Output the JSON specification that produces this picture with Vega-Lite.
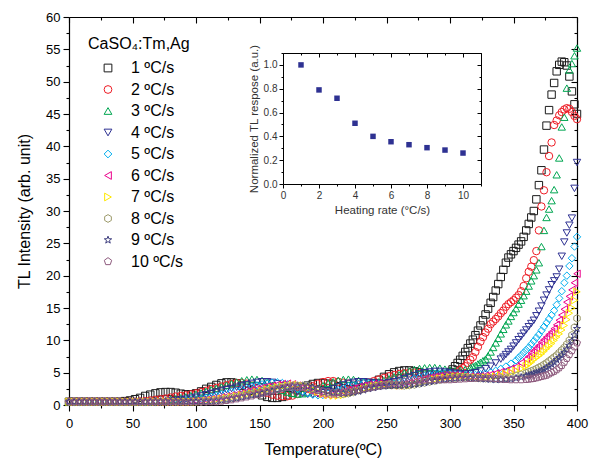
{"$schema":"https://vega.github.io/schema/vega-lite/v6.json","width":508,"height":388,"autosize":{"type":"none"},"padding":{"left":69,"top":17,"right":13,"bottom":55},"background":"white",
"config":{"view":{"stroke":null},"font":"Liberation Sans","axis":{"domainColor":"#000","tickColor":"#000","labelColor":"#000","titleColor":"#000","labelFont":"Liberation Sans","titleFont":"Liberation Sans","titleFontWeight":"normal","grid":false,"labelFlush":false,"labelOverlap":false,"domainWidth":1.2,"tickWidth":1.1}},
"datasets":{"inset":[{"r":1,"n":1.0},{"r":2,"n":0.79},{"r":3,"n":0.72},{"r":4,"n":0.51},{"r":5,"n":0.40},{"r":6,"n":0.355},{"r":7,"n":0.33},{"r":8,"n":0.305},{"r":9,"n":0.285},{"r":10,"n":0.26}],
"tl":[
{"s":1,"t":0,"v":0.5},{"s":1,"t":4,"v":0.5},{"s":1,"t":8,"v":0.5},{"s":1,"t":12,"v":0.5},{"s":1,"t":16,"v":0.5},{"s":1,"t":20,"v":0.5},{"s":1,"t":24,"v":0.5},{"s":1,"t":28,"v":0.5},{"s":1,"t":32,"v":0.5},{"s":1,"t":36,"v":0.5},{"s":1,"t":40,"v":0.5},{"s":1,"t":44,"v":0.6},{"s":1,"t":48,"v":0.7},{"s":1,"t":52,"v":0.9},{"s":1,"t":56,"v":1.1},{"s":1,"t":60,"v":1.4},{"s":1,"t":64,"v":1.6},{"s":1,"t":68,"v":1.8},{"s":1,"t":72,"v":1.95},{"s":1,"t":76,"v":2},{"s":1,"t":80,"v":2},{"s":1,"t":84,"v":1.9},{"s":1,"t":88,"v":1.75},{"s":1,"t":92,"v":1.65},{"s":1,"t":96,"v":1.65},{"s":1,"t":100,"v":1.8},{"s":1,"t":104,"v":2.1},{"s":1,"t":108,"v":2.5},{"s":1,"t":112,"v":2.8},{"s":1,"t":116,"v":3.1},{"s":1,"t":120,"v":3.35},{"s":1,"t":124,"v":3.5},{"s":1,"t":128,"v":3.5},{"s":1,"t":132,"v":3.35},{"s":1,"t":136,"v":3},{"s":1,"t":140,"v":2.6},{"s":1,"t":144,"v":2.2},{"s":1,"t":148,"v":1.8},{"s":1,"t":152,"v":1.5},{"s":1,"t":156,"v":1.25},{"s":1,"t":160,"v":1.1},{"s":1,"t":164,"v":1.1},{"s":1,"t":168,"v":1.25},{"s":1,"t":172,"v":1.5},{"s":1,"t":176,"v":1.9},{"s":1,"t":180,"v":2.3},{"s":1,"t":184,"v":2.7},{"s":1,"t":188,"v":3},{"s":1,"t":192,"v":3.25},{"s":1,"t":196,"v":3.4},{"s":1,"t":200,"v":3.4},{"s":1,"t":204,"v":3.3},{"s":1,"t":208,"v":3.15},{"s":1,"t":212,"v":2.9},{"s":1,"t":216,"v":2.6},{"s":1,"t":220,"v":2.45},{"s":1,"t":224,"v":2.4},{"s":1,"t":228,"v":2.45},{"s":1,"t":232,"v":2.7},{"s":1,"t":236,"v":3},{"s":1,"t":240,"v":3.4},{"s":1,"t":244,"v":3.9},{"s":1,"t":248,"v":4.35},{"s":1,"t":252,"v":4.75},{"s":1,"t":256,"v":5.05},{"s":1,"t":260,"v":5.25},{"s":1,"t":264,"v":5.35},{"s":1,"t":268,"v":5.35},{"s":1,"t":272,"v":5.2},{"s":1,"t":276,"v":5.05},{"s":1,"t":280,"v":4.85},{"s":1,"t":284,"v":4.65},{"s":1,"t":288,"v":4.55},{"s":1,"t":292,"v":4.55},{"s":1,"t":296,"v":4.7},{"s":1,"t":300,"v":5.1},{"s":1,"t":302,"v":5.5},{"s":1,"t":304,"v":6},{"s":1,"t":306,"v":6.5},{"s":1,"t":308,"v":7},{"s":1,"t":310,"v":7.6},{"s":1,"t":312,"v":8.2},{"s":1,"t":314,"v":8.8},{"s":1,"t":316,"v":9.5},{"s":1,"t":318,"v":10.1},{"s":1,"t":320,"v":10.8},{"s":1,"t":322,"v":11.5},{"s":1,"t":324,"v":12.3},{"s":1,"t":326,"v":13.1},{"s":1,"t":328,"v":14},{"s":1,"t":330,"v":14.9},{"s":1,"t":332,"v":15.8},{"s":1,"t":334,"v":16.7},{"s":1,"t":336,"v":17.7},{"s":1,"t":338,"v":18.7},{"s":1,"t":340,"v":19.8},{"s":1,"t":342,"v":20.9},{"s":1,"t":344,"v":22},{"s":1,"t":346,"v":22.8},{"s":1,"t":348,"v":23.3},{"s":1,"t":350,"v":23.8},{"s":1,"t":352,"v":24.3},{"s":1,"t":354,"v":24.8},{"s":1,"t":356,"v":25.3},{"s":1,"t":358,"v":26},{"s":1,"t":360,"v":27},{"s":1,"t":362,"v":28},{"s":1,"t":364,"v":29},{"s":1,"t":366,"v":30},{"s":1,"t":368,"v":31.8},{"s":1,"t":370,"v":34},{"s":1,"t":372,"v":36.3},{"s":1,"t":374,"v":39.5},{"s":1,"t":376,"v":43.2},{"s":1,"t":378,"v":45.6},{"s":1,"t":380,"v":48},{"s":1,"t":382,"v":49.8},{"s":1,"t":384,"v":51.6},{"s":1,"t":386,"v":52.6},{"s":1,"t":388,"v":53.1},{"s":1,"t":390,"v":53},{"s":1,"t":392,"v":52.5},{"s":1,"t":394,"v":50.8},{"s":1,"t":396,"v":48.5},{"s":1,"t":398,"v":46.5},{"s":1,"t":400,"v":45},
{"s":2,"t":0,"v":0.5},{"s":2,"t":4,"v":0.5},{"s":2,"t":8,"v":0.5},{"s":2,"t":12,"v":0.5},{"s":2,"t":16,"v":0.5},{"s":2,"t":20,"v":0.5},{"s":2,"t":24,"v":0.5},{"s":2,"t":28,"v":0.5},{"s":2,"t":32,"v":0.5},{"s":2,"t":36,"v":0.5},{"s":2,"t":40,"v":0.5},{"s":2,"t":44,"v":0.5},{"s":2,"t":48,"v":0.5},{"s":2,"t":52,"v":0.5},{"s":2,"t":56,"v":0.55},{"s":2,"t":60,"v":0.6},{"s":2,"t":64,"v":0.7},{"s":2,"t":68,"v":0.8},{"s":2,"t":72,"v":0.9},{"s":2,"t":76,"v":1},{"s":2,"t":80,"v":1.15},{"s":2,"t":84,"v":1.3},{"s":2,"t":88,"v":1.4},{"s":2,"t":92,"v":1.5},{"s":2,"t":96,"v":1.65},{"s":2,"t":100,"v":1.8},{"s":2,"t":104,"v":2},{"s":2,"t":108,"v":2.2},{"s":2,"t":112,"v":2.45},{"s":2,"t":116,"v":2.65},{"s":2,"t":120,"v":2.85},{"s":2,"t":124,"v":3.05},{"s":2,"t":128,"v":3.25},{"s":2,"t":132,"v":3.4},{"s":2,"t":136,"v":3.4},{"s":2,"t":140,"v":3.3},{"s":2,"t":144,"v":3},{"s":2,"t":148,"v":2.6},{"s":2,"t":152,"v":2.2},{"s":2,"t":156,"v":1.9},{"s":2,"t":160,"v":1.6},{"s":2,"t":164,"v":1.45},{"s":2,"t":168,"v":1.35},{"s":2,"t":172,"v":1.35},{"s":2,"t":176,"v":1.45},{"s":2,"t":180,"v":1.7},{"s":2,"t":184,"v":2.1},{"s":2,"t":188,"v":2.5},{"s":2,"t":192,"v":2.9},{"s":2,"t":196,"v":3.3},{"s":2,"t":200,"v":3.55},{"s":2,"t":204,"v":3.7},{"s":2,"t":208,"v":3.7},{"s":2,"t":212,"v":3.6},{"s":2,"t":216,"v":3.45},{"s":2,"t":220,"v":3.3},{"s":2,"t":224,"v":3.15},{"s":2,"t":228,"v":3.15},{"s":2,"t":232,"v":3.3},{"s":2,"t":236,"v":3.5},{"s":2,"t":240,"v":3.7},{"s":2,"t":244,"v":3.95},{"s":2,"t":248,"v":4.2},{"s":2,"t":252,"v":4.45},{"s":2,"t":256,"v":4.65},{"s":2,"t":260,"v":4.8},{"s":2,"t":264,"v":4.9},{"s":2,"t":268,"v":5},{"s":2,"t":272,"v":5},{"s":2,"t":276,"v":4.95},{"s":2,"t":280,"v":4.85},{"s":2,"t":284,"v":4.75},{"s":2,"t":288,"v":4.65},{"s":2,"t":292,"v":4.6},{"s":2,"t":296,"v":4.6},{"s":2,"t":300,"v":4.7},{"s":2,"t":304,"v":4.95},{"s":2,"t":306,"v":5.15},{"s":2,"t":308,"v":5.4},{"s":2,"t":310,"v":5.7},{"s":2,"t":312,"v":6},{"s":2,"t":314,"v":6.5},{"s":2,"t":316,"v":7},{"s":2,"t":318,"v":7.4},{"s":2,"t":320,"v":8.2},{"s":2,"t":322,"v":9},{"s":2,"t":324,"v":9.8},{"s":2,"t":326,"v":10.5},{"s":2,"t":328,"v":11.2},{"s":2,"t":330,"v":11.8},{"s":2,"t":332,"v":12.5},{"s":2,"t":334,"v":12.9},{"s":2,"t":336,"v":13.3},{"s":2,"t":338,"v":13.7},{"s":2,"t":340,"v":14.2},{"s":2,"t":342,"v":14.6},{"s":2,"t":344,"v":15.2},{"s":2,"t":346,"v":15.6},{"s":2,"t":348,"v":15.9},{"s":2,"t":350,"v":16.2},{"s":2,"t":352,"v":16.6},{"s":2,"t":354,"v":17},{"s":2,"t":356,"v":17.6},{"s":2,"t":358,"v":18.4},{"s":2,"t":360,"v":19.6},{"s":2,"t":362,"v":20.6},{"s":2,"t":364,"v":21.4},{"s":2,"t":366,"v":22.4},{"s":2,"t":368,"v":23.8},{"s":2,"t":370,"v":27},{"s":2,"t":372,"v":30.7},{"s":2,"t":374,"v":33.2},{"s":2,"t":376,"v":36},{"s":2,"t":378,"v":38.5},{"s":2,"t":380,"v":40.6},{"s":2,"t":382,"v":43.3},{"s":2,"t":384,"v":44},{"s":2,"t":386,"v":44.8},{"s":2,"t":388,"v":45.3},{"s":2,"t":390,"v":45.7},{"s":2,"t":392,"v":45.9},{"s":2,"t":394,"v":45.8},{"s":2,"t":396,"v":45.3},{"s":2,"t":398,"v":44.7},{"s":2,"t":400,"v":44.2},
{"s":3,"t":0,"v":0.5},{"s":3,"t":4,"v":0.5},{"s":3,"t":8,"v":0.5},{"s":3,"t":12,"v":0.5},{"s":3,"t":16,"v":0.5},{"s":3,"t":20,"v":0.5},{"s":3,"t":24,"v":0.5},{"s":3,"t":28,"v":0.5},{"s":3,"t":32,"v":0.5},{"s":3,"t":36,"v":0.5},{"s":3,"t":40,"v":0.5},{"s":3,"t":44,"v":0.5},{"s":3,"t":48,"v":0.5},{"s":3,"t":52,"v":0.5},{"s":3,"t":56,"v":0.5},{"s":3,"t":60,"v":0.5},{"s":3,"t":64,"v":0.5},{"s":3,"t":68,"v":0.55},{"s":3,"t":72,"v":0.62},{"s":3,"t":76,"v":0.7},{"s":3,"t":80,"v":0.85},{"s":3,"t":84,"v":0.95},{"s":3,"t":88,"v":1.1},{"s":3,"t":92,"v":1.25},{"s":3,"t":96,"v":1.45},{"s":3,"t":100,"v":1.65},{"s":3,"t":104,"v":1.85},{"s":3,"t":108,"v":2.1},{"s":3,"t":112,"v":2.35},{"s":3,"t":116,"v":2.55},{"s":3,"t":120,"v":2.8},{"s":3,"t":124,"v":3.05},{"s":3,"t":128,"v":3.3},{"s":3,"t":132,"v":3.55},{"s":3,"t":136,"v":3.75},{"s":3,"t":140,"v":3.9},{"s":3,"t":144,"v":4},{"s":3,"t":148,"v":3.95},{"s":3,"t":152,"v":3.8},{"s":3,"t":156,"v":3.5},{"s":3,"t":160,"v":3.05},{"s":3,"t":164,"v":2.6},{"s":3,"t":168,"v":2.25},{"s":3,"t":172,"v":2},{"s":3,"t":176,"v":1.8},{"s":3,"t":180,"v":1.7},{"s":3,"t":184,"v":1.75},{"s":3,"t":188,"v":1.9},{"s":3,"t":192,"v":2.2},{"s":3,"t":196,"v":2.6},{"s":3,"t":200,"v":3},{"s":3,"t":204,"v":3.35},{"s":3,"t":208,"v":3.6},{"s":3,"t":212,"v":3.8},{"s":3,"t":216,"v":3.95},{"s":3,"t":220,"v":4},{"s":3,"t":224,"v":3.95},{"s":3,"t":228,"v":3.8},{"s":3,"t":232,"v":3.65},{"s":3,"t":236,"v":3.55},{"s":3,"t":240,"v":3.5},{"s":3,"t":244,"v":3.6},{"s":3,"t":248,"v":3.8},{"s":3,"t":252,"v":4.05},{"s":3,"t":256,"v":4.35},{"s":3,"t":260,"v":4.65},{"s":3,"t":264,"v":4.95},{"s":3,"t":268,"v":5.25},{"s":3,"t":272,"v":5.5},{"s":3,"t":276,"v":5.65},{"s":3,"t":280,"v":5.75},{"s":3,"t":284,"v":5.8},{"s":3,"t":288,"v":5.8},{"s":3,"t":292,"v":5.7},{"s":3,"t":296,"v":5.55},{"s":3,"t":300,"v":5.4},{"s":3,"t":304,"v":5.3},{"s":3,"t":308,"v":5.35},{"s":3,"t":312,"v":5.5},{"s":3,"t":316,"v":5.8},{"s":3,"t":318,"v":5.95},{"s":3,"t":320,"v":6.1},{"s":3,"t":322,"v":6.35},{"s":3,"t":324,"v":6.6},{"s":3,"t":326,"v":6.85},{"s":3,"t":328,"v":7.1},{"s":3,"t":330,"v":7.6},{"s":3,"t":332,"v":8.2},{"s":3,"t":334,"v":8.9},{"s":3,"t":336,"v":9.6},{"s":3,"t":338,"v":10.3},{"s":3,"t":340,"v":11},{"s":3,"t":342,"v":11.7},{"s":3,"t":344,"v":12.4},{"s":3,"t":346,"v":13},{"s":3,"t":348,"v":13.7},{"s":3,"t":350,"v":14.3},{"s":3,"t":352,"v":14.9},{"s":3,"t":354,"v":15.6},{"s":3,"t":356,"v":16.2},{"s":3,"t":358,"v":16.9},{"s":3,"t":360,"v":17.6},{"s":3,"t":362,"v":18.4},{"s":3,"t":364,"v":19.2},{"s":3,"t":366,"v":20},{"s":3,"t":368,"v":20.9},{"s":3,"t":370,"v":22},{"s":3,"t":372,"v":24.5},{"s":3,"t":374,"v":27},{"s":3,"t":376,"v":29},{"s":3,"t":378,"v":30.3},{"s":3,"t":380,"v":31.6},{"s":3,"t":382,"v":33.3},{"s":3,"t":384,"v":35.6},{"s":3,"t":386,"v":38.2},{"s":3,"t":388,"v":43},{"s":3,"t":390,"v":44.5},{"s":3,"t":392,"v":49},{"s":3,"t":394,"v":51.8},{"s":3,"t":396,"v":52.8},{"s":3,"t":398,"v":54},{"s":3,"t":400,"v":55.2},
{"s":4,"t":0,"v":0.5},{"s":4,"t":4,"v":0.5},{"s":4,"t":8,"v":0.5},{"s":4,"t":12,"v":0.5},{"s":4,"t":16,"v":0.5},{"s":4,"t":20,"v":0.5},{"s":4,"t":24,"v":0.5},{"s":4,"t":28,"v":0.5},{"s":4,"t":32,"v":0.5},{"s":4,"t":36,"v":0.5},{"s":4,"t":40,"v":0.5},{"s":4,"t":44,"v":0.5},{"s":4,"t":48,"v":0.5},{"s":4,"t":52,"v":0.5},{"s":4,"t":56,"v":0.5},{"s":4,"t":60,"v":0.5},{"s":4,"t":64,"v":0.5},{"s":4,"t":68,"v":0.5},{"s":4,"t":72,"v":0.5},{"s":4,"t":76,"v":0.5},{"s":4,"t":80,"v":0.6},{"s":4,"t":84,"v":0.68},{"s":4,"t":88,"v":0.78},{"s":4,"t":92,"v":0.9},{"s":4,"t":96,"v":1.05},{"s":4,"t":100,"v":1.2},{"s":4,"t":104,"v":1.4},{"s":4,"t":108,"v":1.6},{"s":4,"t":112,"v":1.8},{"s":4,"t":116,"v":1.95},{"s":4,"t":120,"v":2.15},{"s":4,"t":124,"v":2.35},{"s":4,"t":128,"v":2.55},{"s":4,"t":132,"v":2.75},{"s":4,"t":136,"v":2.95},{"s":4,"t":140,"v":3.15},{"s":4,"t":144,"v":3.35},{"s":4,"t":148,"v":3.5},{"s":4,"t":152,"v":3.6},{"s":4,"t":156,"v":3.6},{"s":4,"t":160,"v":3.5},{"s":4,"t":164,"v":3.3},{"s":4,"t":168,"v":3},{"s":4,"t":172,"v":2.65},{"s":4,"t":176,"v":2.3},{"s":4,"t":180,"v":2},{"s":4,"t":184,"v":1.8},{"s":4,"t":188,"v":1.65},{"s":4,"t":192,"v":1.6},{"s":4,"t":196,"v":1.7},{"s":4,"t":200,"v":1.9},{"s":4,"t":204,"v":2.2},{"s":4,"t":208,"v":2.5},{"s":4,"t":212,"v":2.8},{"s":4,"t":216,"v":3.1},{"s":4,"t":220,"v":3.35},{"s":4,"t":224,"v":3.5},{"s":4,"t":228,"v":3.6},{"s":4,"t":232,"v":3.6},{"s":4,"t":236,"v":3.5},{"s":4,"t":240,"v":3.4},{"s":4,"t":244,"v":3.35},{"s":4,"t":248,"v":3.35},{"s":4,"t":252,"v":3.45},{"s":4,"t":256,"v":3.6},{"s":4,"t":260,"v":3.8},{"s":4,"t":264,"v":4.05},{"s":4,"t":268,"v":4.3},{"s":4,"t":272,"v":4.55},{"s":4,"t":276,"v":4.8},{"s":4,"t":280,"v":5},{"s":4,"t":284,"v":5.1},{"s":4,"t":288,"v":5.2},{"s":4,"t":292,"v":5.2},{"s":4,"t":296,"v":5.1},{"s":4,"t":300,"v":5},{"s":4,"t":304,"v":4.9},{"s":4,"t":308,"v":4.85},{"s":4,"t":312,"v":4.8},{"s":4,"t":316,"v":4.85},{"s":4,"t":320,"v":5},{"s":4,"t":324,"v":5.25},{"s":4,"t":328,"v":5.6},{"s":4,"t":332,"v":6},{"s":4,"t":336,"v":6.5},{"s":4,"t":340,"v":7.1},{"s":4,"t":342,"v":7.4},{"s":4,"t":344,"v":7.8},{"s":4,"t":346,"v":8.2},{"s":4,"t":348,"v":8.6},{"s":4,"t":350,"v":9.1},{"s":4,"t":352,"v":9.6},{"s":4,"t":354,"v":10.1},{"s":4,"t":356,"v":10.6},{"s":4,"t":358,"v":11.1},{"s":4,"t":360,"v":11.6},{"s":4,"t":362,"v":12.1},{"s":4,"t":364,"v":12.6},{"s":4,"t":366,"v":13.1},{"s":4,"t":368,"v":13.8},{"s":4,"t":370,"v":14.5},{"s":4,"t":372,"v":15.3},{"s":4,"t":374,"v":16.2},{"s":4,"t":376,"v":17},{"s":4,"t":378,"v":17.8},{"s":4,"t":380,"v":18.6},{"s":4,"t":382,"v":19.2},{"s":4,"t":384,"v":19.8},{"s":4,"t":386,"v":21},{"s":4,"t":388,"v":23},{"s":4,"t":390,"v":25.2},{"s":4,"t":392,"v":26.6},{"s":4,"t":394,"v":27.8},{"s":4,"t":396,"v":28.9},{"s":4,"t":398,"v":33.5},{"s":4,"t":400,"v":37.5},
{"s":5,"t":0,"v":0.5},{"s":5,"t":4,"v":0.5},{"s":5,"t":8,"v":0.5},{"s":5,"t":12,"v":0.5},{"s":5,"t":16,"v":0.5},{"s":5,"t":20,"v":0.5},{"s":5,"t":24,"v":0.5},{"s":5,"t":28,"v":0.5},{"s":5,"t":32,"v":0.5},{"s":5,"t":36,"v":0.5},{"s":5,"t":40,"v":0.5},{"s":5,"t":44,"v":0.5},{"s":5,"t":48,"v":0.5},{"s":5,"t":52,"v":0.5},{"s":5,"t":56,"v":0.5},{"s":5,"t":60,"v":0.5},{"s":5,"t":64,"v":0.5},{"s":5,"t":68,"v":0.5},{"s":5,"t":72,"v":0.5},{"s":5,"t":76,"v":0.5},{"s":5,"t":80,"v":0.5},{"s":5,"t":84,"v":0.5},{"s":5,"t":88,"v":0.6},{"s":5,"t":92,"v":0.68},{"s":5,"t":96,"v":0.78},{"s":5,"t":100,"v":0.9},{"s":5,"t":104,"v":1},{"s":5,"t":108,"v":1.15},{"s":5,"t":112,"v":1.3},{"s":5,"t":116,"v":1.45},{"s":5,"t":120,"v":1.65},{"s":5,"t":124,"v":1.85},{"s":5,"t":128,"v":2.05},{"s":5,"t":132,"v":2.25},{"s":5,"t":136,"v":2.45},{"s":5,"t":140,"v":2.65},{"s":5,"t":144,"v":2.85},{"s":5,"t":148,"v":3.05},{"s":5,"t":152,"v":3.2},{"s":5,"t":156,"v":3.35},{"s":5,"t":160,"v":3.45},{"s":5,"t":164,"v":3.5},{"s":5,"t":168,"v":3.4},{"s":5,"t":172,"v":3.2},{"s":5,"t":176,"v":2.85},{"s":5,"t":180,"v":2.45},{"s":5,"t":184,"v":2.1},{"s":5,"t":188,"v":1.8},{"s":5,"t":192,"v":1.6},{"s":5,"t":196,"v":1.5},{"s":5,"t":200,"v":1.55},{"s":5,"t":204,"v":1.75},{"s":5,"t":208,"v":2},{"s":5,"t":212,"v":2.3},{"s":5,"t":216,"v":2.6},{"s":5,"t":220,"v":2.9},{"s":5,"t":224,"v":3.15},{"s":5,"t":228,"v":3.3},{"s":5,"t":232,"v":3.4},{"s":5,"t":236,"v":3.35},{"s":5,"t":240,"v":3.3},{"s":5,"t":244,"v":3.2},{"s":5,"t":248,"v":3.1},{"s":5,"t":252,"v":3.15},{"s":5,"t":256,"v":3.25},{"s":5,"t":260,"v":3.4},{"s":5,"t":264,"v":3.6},{"s":5,"t":268,"v":3.85},{"s":5,"t":272,"v":4.1},{"s":5,"t":276,"v":4.3},{"s":5,"t":280,"v":4.5},{"s":5,"t":284,"v":4.7},{"s":5,"t":288,"v":4.8},{"s":5,"t":292,"v":4.9},{"s":5,"t":296,"v":4.9},{"s":5,"t":300,"v":4.85},{"s":5,"t":304,"v":4.75},{"s":5,"t":308,"v":4.7},{"s":5,"t":312,"v":4.65},{"s":5,"t":316,"v":4.6},{"s":5,"t":320,"v":4.65},{"s":5,"t":324,"v":4.75},{"s":5,"t":328,"v":4.85},{"s":5,"t":332,"v":5.05},{"s":5,"t":336,"v":5.3},{"s":5,"t":340,"v":5.6},{"s":5,"t":344,"v":5.95},{"s":5,"t":348,"v":6.4},{"s":5,"t":352,"v":6.9},{"s":5,"t":354,"v":7.3},{"s":5,"t":356,"v":7.7},{"s":5,"t":358,"v":8.1},{"s":5,"t":360,"v":8.5},{"s":5,"t":362,"v":8.9},{"s":5,"t":364,"v":9.4},{"s":5,"t":366,"v":9.9},{"s":5,"t":368,"v":10.4},{"s":5,"t":370,"v":10.9},{"s":5,"t":372,"v":11.5},{"s":5,"t":374,"v":12.1},{"s":5,"t":376,"v":12.7},{"s":5,"t":378,"v":13.3},{"s":5,"t":380,"v":13.9},{"s":5,"t":382,"v":14.6},{"s":5,"t":384,"v":15.5},{"s":5,"t":386,"v":16.5},{"s":5,"t":388,"v":17.6},{"s":5,"t":390,"v":18.9},{"s":5,"t":392,"v":20},{"s":5,"t":394,"v":21.5},{"s":5,"t":396,"v":22.7},{"s":5,"t":398,"v":24.5},{"s":5,"t":400,"v":26},
{"s":6,"t":0,"v":0.5},{"s":6,"t":4,"v":0.5},{"s":6,"t":8,"v":0.5},{"s":6,"t":12,"v":0.5},{"s":6,"t":16,"v":0.5},{"s":6,"t":20,"v":0.5},{"s":6,"t":24,"v":0.5},{"s":6,"t":28,"v":0.5},{"s":6,"t":32,"v":0.5},{"s":6,"t":36,"v":0.5},{"s":6,"t":40,"v":0.5},{"s":6,"t":44,"v":0.5},{"s":6,"t":48,"v":0.5},{"s":6,"t":52,"v":0.5},{"s":6,"t":56,"v":0.5},{"s":6,"t":60,"v":0.5},{"s":6,"t":64,"v":0.5},{"s":6,"t":68,"v":0.5},{"s":6,"t":72,"v":0.5},{"s":6,"t":76,"v":0.5},{"s":6,"t":80,"v":0.5},{"s":6,"t":84,"v":0.5},{"s":6,"t":88,"v":0.5},{"s":6,"t":92,"v":0.5},{"s":6,"t":96,"v":0.6},{"s":6,"t":100,"v":0.65},{"s":6,"t":104,"v":0.7},{"s":6,"t":108,"v":0.8},{"s":6,"t":112,"v":0.9},{"s":6,"t":116,"v":1},{"s":6,"t":120,"v":1.2},{"s":6,"t":124,"v":1.35},{"s":6,"t":128,"v":1.5},{"s":6,"t":132,"v":1.65},{"s":6,"t":136,"v":1.85},{"s":6,"t":140,"v":2.05},{"s":6,"t":144,"v":2.25},{"s":6,"t":148,"v":2.45},{"s":6,"t":152,"v":2.65},{"s":6,"t":156,"v":2.85},{"s":6,"t":160,"v":3},{"s":6,"t":164,"v":3.15},{"s":6,"t":168,"v":3.25},{"s":6,"t":172,"v":3.3},{"s":6,"t":176,"v":3.2},{"s":6,"t":180,"v":3},{"s":6,"t":184,"v":2.7},{"s":6,"t":188,"v":2.35},{"s":6,"t":192,"v":2.05},{"s":6,"t":196,"v":1.75},{"s":6,"t":200,"v":1.6},{"s":6,"t":204,"v":1.55},{"s":6,"t":208,"v":1.6},{"s":6,"t":212,"v":1.8},{"s":6,"t":216,"v":2},{"s":6,"t":220,"v":2.25},{"s":6,"t":224,"v":2.55},{"s":6,"t":228,"v":2.8},{"s":6,"t":232,"v":3},{"s":6,"t":236,"v":3.15},{"s":6,"t":240,"v":3.25},{"s":6,"t":244,"v":3.3},{"s":6,"t":248,"v":3.2},{"s":6,"t":252,"v":3.1},{"s":6,"t":256,"v":3.05},{"s":6,"t":260,"v":3.05},{"s":6,"t":264,"v":3.2},{"s":6,"t":268,"v":3.4},{"s":6,"t":272,"v":3.6},{"s":6,"t":276,"v":3.8},{"s":6,"t":280,"v":4},{"s":6,"t":284,"v":4.2},{"s":6,"t":288,"v":4.35},{"s":6,"t":292,"v":4.5},{"s":6,"t":296,"v":4.6},{"s":6,"t":300,"v":4.6},{"s":6,"t":304,"v":4.6},{"s":6,"t":308,"v":4.55},{"s":6,"t":312,"v":4.45},{"s":6,"t":316,"v":4.4},{"s":6,"t":320,"v":4.4},{"s":6,"t":324,"v":4.45},{"s":6,"t":328,"v":4.55},{"s":6,"t":332,"v":4.7},{"s":6,"t":336,"v":4.9},{"s":6,"t":340,"v":5.1},{"s":6,"t":344,"v":5.3},{"s":6,"t":348,"v":5.6},{"s":6,"t":352,"v":5.9},{"s":6,"t":356,"v":6.5},{"s":6,"t":360,"v":7.1},{"s":6,"t":362,"v":7.5},{"s":6,"t":364,"v":8},{"s":6,"t":366,"v":8.4},{"s":6,"t":368,"v":8.8},{"s":6,"t":370,"v":9.2},{"s":6,"t":372,"v":9.7},{"s":6,"t":374,"v":10.1},{"s":6,"t":376,"v":10.5},{"s":6,"t":378,"v":10.9},{"s":6,"t":380,"v":11.3},{"s":6,"t":382,"v":11.8},{"s":6,"t":384,"v":12.4},{"s":6,"t":386,"v":13.1},{"s":6,"t":388,"v":13.9},{"s":6,"t":390,"v":14.8},{"s":6,"t":392,"v":15.9},{"s":6,"t":394,"v":16.8},{"s":6,"t":396,"v":17.8},{"s":6,"t":398,"v":18.9},{"s":6,"t":400,"v":20.3},
{"s":7,"t":0,"v":0.5},{"s":7,"t":4,"v":0.5},{"s":7,"t":8,"v":0.5},{"s":7,"t":12,"v":0.5},{"s":7,"t":16,"v":0.5},{"s":7,"t":20,"v":0.5},{"s":7,"t":24,"v":0.5},{"s":7,"t":28,"v":0.5},{"s":7,"t":32,"v":0.5},{"s":7,"t":36,"v":0.5},{"s":7,"t":40,"v":0.5},{"s":7,"t":44,"v":0.5},{"s":7,"t":48,"v":0.5},{"s":7,"t":52,"v":0.5},{"s":7,"t":56,"v":0.5},{"s":7,"t":60,"v":0.5},{"s":7,"t":64,"v":0.5},{"s":7,"t":68,"v":0.5},{"s":7,"t":72,"v":0.5},{"s":7,"t":76,"v":0.5},{"s":7,"t":80,"v":0.5},{"s":7,"t":84,"v":0.5},{"s":7,"t":88,"v":0.5},{"s":7,"t":92,"v":0.5},{"s":7,"t":96,"v":0.5},{"s":7,"t":100,"v":0.5},{"s":7,"t":104,"v":0.55},{"s":7,"t":108,"v":0.62},{"s":7,"t":112,"v":0.7},{"s":7,"t":116,"v":0.8},{"s":7,"t":120,"v":0.95},{"s":7,"t":124,"v":1.05},{"s":7,"t":128,"v":1.2},{"s":7,"t":132,"v":1.35},{"s":7,"t":136,"v":1.5},{"s":7,"t":140,"v":1.65},{"s":7,"t":144,"v":1.8},{"s":7,"t":148,"v":2},{"s":7,"t":152,"v":2.2},{"s":7,"t":156,"v":2.4},{"s":7,"t":160,"v":2.6},{"s":7,"t":164,"v":2.75},{"s":7,"t":168,"v":2.9},{"s":7,"t":172,"v":3},{"s":7,"t":176,"v":3.1},{"s":7,"t":180,"v":3.1},{"s":7,"t":184,"v":2.95},{"s":7,"t":188,"v":2.7},{"s":7,"t":192,"v":2.4},{"s":7,"t":196,"v":2.05},{"s":7,"t":200,"v":1.75},{"s":7,"t":204,"v":1.55},{"s":7,"t":208,"v":1.45},{"s":7,"t":212,"v":1.45},{"s":7,"t":216,"v":1.55},{"s":7,"t":220,"v":1.75},{"s":7,"t":224,"v":1.95},{"s":7,"t":228,"v":2.2},{"s":7,"t":232,"v":2.45},{"s":7,"t":236,"v":2.7},{"s":7,"t":240,"v":2.9},{"s":7,"t":244,"v":3},{"s":7,"t":248,"v":3.1},{"s":7,"t":252,"v":3.1},{"s":7,"t":256,"v":3.05},{"s":7,"t":260,"v":3},{"s":7,"t":264,"v":3},{"s":7,"t":268,"v":3.05},{"s":7,"t":272,"v":3.2},{"s":7,"t":276,"v":3.4},{"s":7,"t":280,"v":3.6},{"s":7,"t":284,"v":3.75},{"s":7,"t":288,"v":3.95},{"s":7,"t":292,"v":4.1},{"s":7,"t":296,"v":4.2},{"s":7,"t":300,"v":4.3},{"s":7,"t":304,"v":4.4},{"s":7,"t":308,"v":4.4},{"s":7,"t":312,"v":4.35},{"s":7,"t":316,"v":4.3},{"s":7,"t":320,"v":4.25},{"s":7,"t":324,"v":4.2},{"s":7,"t":328,"v":4.25},{"s":7,"t":332,"v":4.3},{"s":7,"t":336,"v":4.4},{"s":7,"t":340,"v":4.6},{"s":7,"t":344,"v":4.8},{"s":7,"t":348,"v":5.05},{"s":7,"t":352,"v":5.3},{"s":7,"t":356,"v":5.6},{"s":7,"t":360,"v":6},{"s":7,"t":362,"v":6.3},{"s":7,"t":364,"v":6.6},{"s":7,"t":366,"v":7},{"s":7,"t":368,"v":7.3},{"s":7,"t":370,"v":7.6},{"s":7,"t":372,"v":7.9},{"s":7,"t":374,"v":8.3},{"s":7,"t":376,"v":8.7},{"s":7,"t":378,"v":9.1},{"s":7,"t":380,"v":9.5},{"s":7,"t":382,"v":10},{"s":7,"t":384,"v":10.5},{"s":7,"t":386,"v":11},{"s":7,"t":388,"v":11.6},{"s":7,"t":390,"v":12.3},{"s":7,"t":392,"v":13.2},{"s":7,"t":394,"v":14.2},{"s":7,"t":396,"v":15},{"s":7,"t":398,"v":16.2},{"s":7,"t":400,"v":17.5},
{"s":8,"t":0,"v":0.5},{"s":8,"t":4,"v":0.5},{"s":8,"t":8,"v":0.5},{"s":8,"t":12,"v":0.5},{"s":8,"t":16,"v":0.5},{"s":8,"t":20,"v":0.5},{"s":8,"t":24,"v":0.5},{"s":8,"t":28,"v":0.5},{"s":8,"t":32,"v":0.5},{"s":8,"t":36,"v":0.5},{"s":8,"t":40,"v":0.5},{"s":8,"t":44,"v":0.5},{"s":8,"t":48,"v":0.5},{"s":8,"t":52,"v":0.5},{"s":8,"t":56,"v":0.5},{"s":8,"t":60,"v":0.5},{"s":8,"t":64,"v":0.5},{"s":8,"t":68,"v":0.5},{"s":8,"t":72,"v":0.5},{"s":8,"t":76,"v":0.5},{"s":8,"t":80,"v":0.5},{"s":8,"t":84,"v":0.5},{"s":8,"t":88,"v":0.5},{"s":8,"t":92,"v":0.5},{"s":8,"t":96,"v":0.5},{"s":8,"t":100,"v":0.5},{"s":8,"t":104,"v":0.5},{"s":8,"t":108,"v":0.55},{"s":8,"t":112,"v":0.62},{"s":8,"t":116,"v":0.7},{"s":8,"t":120,"v":0.8},{"s":8,"t":124,"v":0.95},{"s":8,"t":128,"v":1.1},{"s":8,"t":132,"v":1.25},{"s":8,"t":136,"v":1.4},{"s":8,"t":140,"v":1.6},{"s":8,"t":144,"v":1.75},{"s":8,"t":148,"v":1.9},{"s":8,"t":152,"v":2.1},{"s":8,"t":156,"v":2.25},{"s":8,"t":160,"v":2.4},{"s":8,"t":164,"v":2.55},{"s":8,"t":168,"v":2.75},{"s":8,"t":172,"v":2.9},{"s":8,"t":176,"v":3},{"s":8,"t":180,"v":3},{"s":8,"t":184,"v":3},{"s":8,"t":188,"v":2.85},{"s":8,"t":192,"v":2.6},{"s":8,"t":196,"v":2.35},{"s":8,"t":200,"v":2.1},{"s":8,"t":204,"v":1.9},{"s":8,"t":208,"v":1.75},{"s":8,"t":212,"v":1.7},{"s":8,"t":216,"v":1.7},{"s":8,"t":220,"v":1.8},{"s":8,"t":224,"v":2},{"s":8,"t":228,"v":2.25},{"s":8,"t":232,"v":2.5},{"s":8,"t":236,"v":2.7},{"s":8,"t":240,"v":2.85},{"s":8,"t":244,"v":3},{"s":8,"t":248,"v":3.05},{"s":8,"t":252,"v":3.1},{"s":8,"t":256,"v":3.1},{"s":8,"t":260,"v":3.05},{"s":8,"t":264,"v":3},{"s":8,"t":268,"v":3.05},{"s":8,"t":272,"v":3.15},{"s":8,"t":276,"v":3.3},{"s":8,"t":280,"v":3.45},{"s":8,"t":284,"v":3.6},{"s":8,"t":288,"v":3.75},{"s":8,"t":292,"v":3.9},{"s":8,"t":296,"v":4},{"s":8,"t":300,"v":4.1},{"s":8,"t":304,"v":4.2},{"s":8,"t":308,"v":4.25},{"s":8,"t":312,"v":4.3},{"s":8,"t":316,"v":4.25},{"s":8,"t":320,"v":4.2},{"s":8,"t":324,"v":4.15},{"s":8,"t":328,"v":4.1},{"s":8,"t":332,"v":4.1},{"s":8,"t":336,"v":4.1},{"s":8,"t":340,"v":4.15},{"s":8,"t":344,"v":4.25},{"s":8,"t":348,"v":4.4},{"s":8,"t":352,"v":4.55},{"s":8,"t":356,"v":4.7},{"s":8,"t":360,"v":4.95},{"s":8,"t":362,"v":5.1},{"s":8,"t":364,"v":5.25},{"s":8,"t":366,"v":5.4},{"s":8,"t":368,"v":5.6},{"s":8,"t":370,"v":5.8},{"s":8,"t":372,"v":6},{"s":8,"t":374,"v":6.25},{"s":8,"t":376,"v":6.5},{"s":8,"t":378,"v":6.8},{"s":8,"t":380,"v":7.1},{"s":8,"t":382,"v":7.4},{"s":8,"t":384,"v":7.7},{"s":8,"t":386,"v":8.1},{"s":8,"t":388,"v":8.5},{"s":8,"t":390,"v":8.9},{"s":8,"t":392,"v":9.4},{"s":8,"t":394,"v":10},{"s":8,"t":396,"v":10.8},{"s":8,"t":398,"v":12},{"s":8,"t":400,"v":13.4},
{"s":9,"t":0,"v":0.5},{"s":9,"t":4,"v":0.5},{"s":9,"t":8,"v":0.5},{"s":9,"t":12,"v":0.5},{"s":9,"t":16,"v":0.5},{"s":9,"t":20,"v":0.5},{"s":9,"t":24,"v":0.5},{"s":9,"t":28,"v":0.5},{"s":9,"t":32,"v":0.5},{"s":9,"t":36,"v":0.5},{"s":9,"t":40,"v":0.5},{"s":9,"t":44,"v":0.5},{"s":9,"t":48,"v":0.5},{"s":9,"t":52,"v":0.5},{"s":9,"t":56,"v":0.5},{"s":9,"t":60,"v":0.5},{"s":9,"t":64,"v":0.5},{"s":9,"t":68,"v":0.5},{"s":9,"t":72,"v":0.5},{"s":9,"t":76,"v":0.5},{"s":9,"t":80,"v":0.5},{"s":9,"t":84,"v":0.5},{"s":9,"t":88,"v":0.5},{"s":9,"t":92,"v":0.5},{"s":9,"t":96,"v":0.5},{"s":9,"t":100,"v":0.5},{"s":9,"t":104,"v":0.5},{"s":9,"t":108,"v":0.5},{"s":9,"t":112,"v":0.55},{"s":9,"t":116,"v":0.6},{"s":9,"t":120,"v":0.7},{"s":9,"t":124,"v":0.8},{"s":9,"t":128,"v":0.92},{"s":9,"t":132,"v":1.05},{"s":9,"t":136,"v":1.2},{"s":9,"t":140,"v":1.35},{"s":9,"t":144,"v":1.5},{"s":9,"t":148,"v":1.65},{"s":9,"t":152,"v":1.8},{"s":9,"t":156,"v":1.95},{"s":9,"t":160,"v":2.1},{"s":9,"t":164,"v":2.3},{"s":9,"t":168,"v":2.5},{"s":9,"t":172,"v":2.7},{"s":9,"t":176,"v":2.85},{"s":9,"t":180,"v":2.9},{"s":9,"t":184,"v":2.9},{"s":9,"t":188,"v":2.85},{"s":9,"t":192,"v":2.7},{"s":9,"t":196,"v":2.5},{"s":9,"t":200,"v":2.3},{"s":9,"t":204,"v":2.1},{"s":9,"t":208,"v":1.95},{"s":9,"t":212,"v":1.85},{"s":9,"t":216,"v":1.8},{"s":9,"t":220,"v":1.85},{"s":9,"t":224,"v":1.95},{"s":9,"t":228,"v":2.1},{"s":9,"t":232,"v":2.3},{"s":9,"t":236,"v":2.5},{"s":9,"t":240,"v":2.65},{"s":9,"t":244,"v":2.8},{"s":9,"t":248,"v":2.9},{"s":9,"t":252,"v":2.95},{"s":9,"t":256,"v":3},{"s":9,"t":260,"v":3},{"s":9,"t":264,"v":3.05},{"s":9,"t":268,"v":3.1},{"s":9,"t":272,"v":3.2},{"s":9,"t":276,"v":3.3},{"s":9,"t":280,"v":3.45},{"s":9,"t":284,"v":3.6},{"s":9,"t":288,"v":3.7},{"s":9,"t":292,"v":3.85},{"s":9,"t":296,"v":3.95},{"s":9,"t":300,"v":4.05},{"s":9,"t":304,"v":4.1},{"s":9,"t":308,"v":4.15},{"s":9,"t":312,"v":4.2},{"s":9,"t":316,"v":4.15},{"s":9,"t":320,"v":4.1},{"s":9,"t":324,"v":4.05},{"s":9,"t":328,"v":4},{"s":9,"t":332,"v":3.95},{"s":9,"t":336,"v":3.9},{"s":9,"t":340,"v":3.9},{"s":9,"t":344,"v":3.95},{"s":9,"t":348,"v":4},{"s":9,"t":352,"v":4.15},{"s":9,"t":356,"v":4.3},{"s":9,"t":360,"v":4.5},{"s":9,"t":362,"v":4.6},{"s":9,"t":364,"v":4.7},{"s":9,"t":366,"v":4.85},{"s":9,"t":368,"v":5},{"s":9,"t":370,"v":5.1},{"s":9,"t":372,"v":5.3},{"s":9,"t":374,"v":5.5},{"s":9,"t":376,"v":5.75},{"s":9,"t":378,"v":6},{"s":9,"t":380,"v":6.3},{"s":9,"t":382,"v":6.6},{"s":9,"t":384,"v":7},{"s":9,"t":386,"v":7.3},{"s":9,"t":388,"v":7.7},{"s":9,"t":390,"v":8.1},{"s":9,"t":392,"v":8.6},{"s":9,"t":394,"v":9.2},{"s":9,"t":396,"v":9.9},{"s":9,"t":398,"v":10.8},{"s":9,"t":400,"v":11.8},
{"s":10,"t":0,"v":0.5},{"s":10,"t":4,"v":0.5},{"s":10,"t":8,"v":0.5},{"s":10,"t":12,"v":0.5},{"s":10,"t":16,"v":0.5},{"s":10,"t":20,"v":0.5},{"s":10,"t":24,"v":0.5},{"s":10,"t":28,"v":0.5},{"s":10,"t":32,"v":0.5},{"s":10,"t":36,"v":0.5},{"s":10,"t":40,"v":0.5},{"s":10,"t":44,"v":0.5},{"s":10,"t":48,"v":0.5},{"s":10,"t":52,"v":0.5},{"s":10,"t":56,"v":0.5},{"s":10,"t":60,"v":0.5},{"s":10,"t":64,"v":0.5},{"s":10,"t":68,"v":0.5},{"s":10,"t":72,"v":0.5},{"s":10,"t":76,"v":0.5},{"s":10,"t":80,"v":0.5},{"s":10,"t":84,"v":0.5},{"s":10,"t":88,"v":0.5},{"s":10,"t":92,"v":0.5},{"s":10,"t":96,"v":0.5},{"s":10,"t":100,"v":0.5},{"s":10,"t":104,"v":0.5},{"s":10,"t":108,"v":0.5},{"s":10,"t":112,"v":0.5},{"s":10,"t":116,"v":0.5},{"s":10,"t":120,"v":0.6},{"s":10,"t":124,"v":0.7},{"s":10,"t":128,"v":0.8},{"s":10,"t":132,"v":0.95},{"s":10,"t":136,"v":1.1},{"s":10,"t":140,"v":1.25},{"s":10,"t":144,"v":1.4},{"s":10,"t":148,"v":1.6},{"s":10,"t":152,"v":1.8},{"s":10,"t":156,"v":2},{"s":10,"t":160,"v":2.2},{"s":10,"t":164,"v":2.4},{"s":10,"t":168,"v":2.6},{"s":10,"t":172,"v":2.75},{"s":10,"t":176,"v":2.8},{"s":10,"t":180,"v":2.8},{"s":10,"t":184,"v":2.7},{"s":10,"t":188,"v":2.55},{"s":10,"t":192,"v":2.4},{"s":10,"t":196,"v":2.25},{"s":10,"t":200,"v":2.1},{"s":10,"t":204,"v":2},{"s":10,"t":208,"v":1.95},{"s":10,"t":212,"v":1.9},{"s":10,"t":216,"v":1.95},{"s":10,"t":220,"v":2.05},{"s":10,"t":224,"v":2.2},{"s":10,"t":228,"v":2.35},{"s":10,"t":232,"v":2.5},{"s":10,"t":236,"v":2.65},{"s":10,"t":240,"v":2.8},{"s":10,"t":244,"v":2.95},{"s":10,"t":248,"v":3.15},{"s":10,"t":252,"v":3.3},{"s":10,"t":256,"v":3.45},{"s":10,"t":260,"v":3.55},{"s":10,"t":264,"v":3.65},{"s":10,"t":268,"v":3.75},{"s":10,"t":272,"v":3.8},{"s":10,"t":276,"v":3.85},{"s":10,"t":280,"v":3.9},{"s":10,"t":284,"v":3.9},{"s":10,"t":288,"v":3.9},{"s":10,"t":292,"v":3.9},{"s":10,"t":296,"v":3.9},{"s":10,"t":300,"v":3.9},{"s":10,"t":304,"v":3.95},{"s":10,"t":308,"v":4},{"s":10,"t":312,"v":4.05},{"s":10,"t":316,"v":4.1},{"s":10,"t":320,"v":4.15},{"s":10,"t":324,"v":4.2},{"s":10,"t":328,"v":4.2},{"s":10,"t":332,"v":4.15},{"s":10,"t":336,"v":4.1},{"s":10,"t":340,"v":4},{"s":10,"t":344,"v":3.95},{"s":10,"t":348,"v":3.9},{"s":10,"t":352,"v":3.9},{"s":10,"t":356,"v":3.9},{"s":10,"t":360,"v":3.95},{"s":10,"t":362,"v":4},{"s":10,"t":364,"v":4.05},{"s":10,"t":366,"v":4.1},{"s":10,"t":368,"v":4.2},{"s":10,"t":370,"v":4.3},{"s":10,"t":372,"v":4.4},{"s":10,"t":374,"v":4.5},{"s":10,"t":376,"v":4.6},{"s":10,"t":378,"v":4.8},{"s":10,"t":380,"v":5},{"s":10,"t":382,"v":5.2},{"s":10,"t":384,"v":5.45},{"s":10,"t":386,"v":5.75},{"s":10,"t":388,"v":6.1},{"s":10,"t":390,"v":6.6},{"s":10,"t":392,"v":7.2},{"s":10,"t":394,"v":7.8},{"s":10,"t":396,"v":8.4},{"s":10,"t":398,"v":9},{"s":10,"t":400,"v":9.6}
]},
"resolve":{"scale":{"x":"independent","y":"independent"},"axis":{"x":"independent","y":"independent"}},
"layer":[
{"data":{"name":"tl"},"mark":{"type":"point","filled":false,"size":55,"strokeWidth":1,"opacity":1},
"encoding":{
"x":{"field":"t","type":"quantitative","scale":{"domain":[0,400],"nice":false,"zero":false},"axis":{"orient":"bottom","values":[0,25,50,75,100,125,150,175,200,225,250,275,300,325,350,375,400],"labelExpr":"datum.value%50===0?datum.label:''","tickSize":{"condition":{"test":"datum.value%50===0","value":6},"value":3},"labelFontSize":13,"labelPadding":6,"title":"Temperature(ºC)","titleFontSize":16,"titlePadding":11}},
"y":{"field":"v","type":"quantitative","scale":{"domain":[0,60],"nice":false},"axis":{"orient":"left","values":[0,2.5,5,7.5,10,12.5,15,17.5,20,22.5,25,27.5,30,32.5,35,37.5,40,42.5,45,47.5,50,52.5,55,57.5,60],"labelExpr":"datum.value%5===0?datum.label:''","tickSize":{"condition":{"test":"datum.value%5===0","value":6},"value":3},"labelFontSize":13,"labelPadding":3,"title":"TL Intensity (arb. unit)","titleFontSize":16,"titlePadding":13}},
"color":{"field":"s","type":"ordinal","scale":{"domain":[1,2,3,4,5,6,7,8,9,10],"range":["#1a1a1a","#ee1c25","#00a651","#2e3192","#00aeef","#ec008c","#ffe800","#9c9a6a","#3f3f7f","#8e5b7e"]},"legend":{"orient":"none","legendX":19,"legendY":19,"padding":0,"title":"CaSO₄:Tm,Ag","titleFontSize":16,"titleFont":"Liberation Sans","titleFontWeight":"normal","titleColor":"#000","titlePadding":8,"labelFont":"Liberation Sans","labelFontSize":16,"labelColor":"#000","labelExpr":"datum.label+' ºC/s'","symbolSize":60,"symbolStrokeWidth":1,"symbolOffset":12,"labelOffset":15,"rowPadding":5.5}},
"shape":{"field":"s","type":"ordinal","scale":{"domain":[1,2,3,4,5,6,7,8,9,10],"range":["square","circle","triangle-up","triangle-down","diamond","triangle-left","triangle-right","M0,-1L0.866,-0.5L0.866,0.5L0,1L-0.866,0.5L-0.866,-0.5Z","M0,-1L0.235,-0.324L0.951,-0.309L0.38,0.124L0.588,0.809L0,0.4L-0.588,0.809L-0.38,0.124L-0.951,-0.309L-0.235,-0.324Z","M0,-1L0.951,-0.309L0.588,0.809L-0.588,0.809L-0.951,-0.309Z"]}}
}},
{"data":{"values":[{"a":0}]},"mark":{"type":"point","opacity":0},
"encoding":{
"x":{"datum":0,"type":"quantitative","scale":{"domain":[0,400],"nice":false,"zero":false},"axis":{"orient":"top","values":[0,25,50,75,100,125,150,175,200,225,250,275,300,325,350,375,400],"labels":false,"title":null,"tickSize":{"condition":{"test":"datum.value%50===0","value":-6},"value":-3}}},
"y":{"datum":0,"type":"quantitative","scale":{"domain":[0,60],"nice":false},"axis":{"orient":"right","values":[0,2.5,5,7.5,10,12.5,15,17.5,20,22.5,25,27.5,30,32.5,35,37.5,40,42.5,45,47.5,50,52.5,55,57.5,60],"labels":false,"title":null,"tickSize":{"condition":{"test":"datum.value%5===0","value":-6},"value":-3}}}
}},
{"data":{"name":"inset"},"mark":{"type":"square","size":30,"color":"#2e3192","opacity":1},
"encoding":{
"x":{"field":"r","type":"quantitative","scale":{"domain":[0,11],"range":[214,412],"nice":false,"zero":false},"axis":{"orient":"bottom","offset":-221,"values":[0,1,2,3,4,5,6,7,8,9,10,11],"labelExpr":"datum.value%2===0?datum.label:''","tickSize":{"condition":{"test":"datum.value%2===0","value":4},"value":2},"labelFontSize":10,"labelPadding":2,"labelColor":"#333","title":"Heating rate (°C/s)","titleFontSize":11.5,"titleColor":"#333","titlePadding":4,"domainWidth":1,"tickWidth":1}},
"y":{"field":"n","type":"quantitative","scale":{"domain":[0,1.1],"range":[167,36],"nice":false},"axis":{"orient":"left","offset":-214,"values":[0,0.1,0.2,0.3,0.4,0.5,0.6,0.7,0.8,0.9,1,1.1],"format":".1f","labelExpr":"round(datum.value*10)%2===0?datum.label:''","tickSize":{"condition":{"test":"round(datum.value*10)%2===0","value":4},"value":2},"labelFontSize":10,"labelPadding":2,"labelColor":"#333","title":"Normalized TL respose (a.u.)","titleFontSize":11.5,"titleColor":"#333","titlePadding":4,"domainWidth":1,"tickWidth":1}}
}},
{"data":{"values":[{"a":0}]},"mark":{"type":"point","opacity":0},
"encoding":{
"x":{"datum":0,"type":"quantitative","scale":{"domain":[0,11],"range":[214,412],"nice":false,"zero":false},"axis":{"orient":"top","offset":-36,"values":[0,1,2,3,4,5,6,7,8,9,10,11],"labels":false,"title":null,"tickSize":{"condition":{"test":"datum.value%2===0","value":-4},"value":-2},"domainWidth":1,"tickWidth":1}},
"y":{"datum":0,"type":"quantitative","scale":{"domain":[0,1.1],"range":[167,36],"nice":false},"axis":{"orient":"right","offset":-96,"values":[0,0.1,0.2,0.3,0.4,0.5,0.6,0.7,0.8,0.9,1,1.1],"labels":false,"title":null,"tickSize":{"condition":{"test":"round(datum.value*10)%2===0","value":-4},"value":-2},"domainWidth":1,"tickWidth":1}}
}}
]}
